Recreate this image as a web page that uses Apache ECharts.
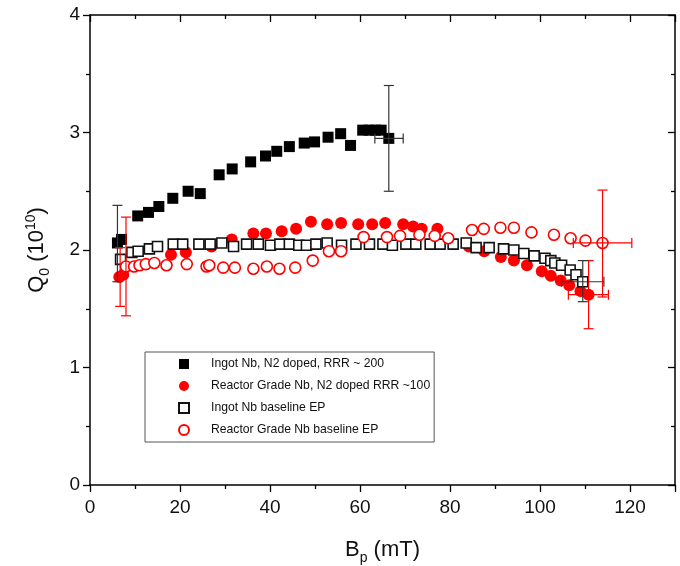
<!DOCTYPE html>
<html>
<head>
<meta charset="utf-8">
<script src="https://cdn.jsdelivr.net/npm/echarts@6/dist/echarts.min.js"></script>
<style>html,body{margin:0;padding:0;background:#fff;overflow:hidden;width:680px;height:566px}#c{width:680px;height:566px}</style>
</head>
<body>
<div id="c"></div>
<script>
// ---- data (x = Bp in mT, y = Q0 in 1e10) ----
const seriesNames = [
  'Ingot Nb, N2 doped, RRR ~ 200',
  'Reactor Grade Nb, N2 doped RRR ~100',
  'Ingot Nb baseline EP',
  'Reactor Grade Nb baseline EP'
];
const ingotDoped = [
  [6.1,2.06],[7.0,2.09],[10.6,2.29],[13.0,2.32],[15.3,2.37],[18.4,2.44],[21.8,2.50],[24.5,2.48],
  [28.7,2.64],[31.6,2.69],[35.7,2.75],[39.0,2.80],[41.5,2.84],[44.3,2.88],[47.6,2.91],[49.9,2.92],
  [52.9,2.96],[55.7,2.99],[57.9,2.89],[60.6,3.02],[62.0,3.02],[63.4,3.02],[64.7,3.02],[66.4,2.95]
];
const reactorDoped = [
  [6.5,1.77],[7.4,1.79],[18.0,1.96],[21.3,1.98],[27.0,2.03],[31.5,2.09],[36.3,2.14],[39.1,2.14],
  [42.6,2.16],[45.8,2.18],[49.1,2.24],[52.7,2.22],[55.8,2.23],[59.6,2.22],[62.7,2.22],[65.6,2.23],
  [69.6,2.22],[71.8,2.20],[73.7,2.18],[77.2,2.18],[84.2,2.03],[87.6,1.99],[91.3,1.94],[94.2,1.91],
  [97.1,1.87],[100.4,1.82],[102.4,1.78],[104.6,1.74],[106.5,1.70],[109.0,1.65],[110.8,1.62]
];
const ingotBaseline = [
  [6.8,1.92],[9.3,1.98],[10.7,1.99],[13.2,2.01],[15.0,2.03],[18.5,2.05],[20.6,2.05],[24.2,2.05],
  [26.7,2.05],[29.3,2.06],[31.9,2.03],[34.8,2.05],[37.4,2.05],[40.1,2.04],[42.2,2.05],[44.3,2.05],
  [46.4,2.04],[48.1,2.04],[50.2,2.05],[52.7,2.06],[55.9,2.04],[59.1,2.05],[62.1,2.05],[65.1,2.05],
  [67.2,2.04],[70.2,2.05],[72.4,2.05],[75.6,2.05],[77.8,2.05],[80.7,2.05],[83.6,2.06],[85.8,2.02],
  [88.7,2.02],[91.9,2.01],[94.2,2.00],[96.4,1.97],[98.7,1.95],[101.1,1.93],[102.4,1.91],[103.3,1.89],
  [104.8,1.87],[106.7,1.83],[108.0,1.79],[109.5,1.73]
];
const reactorBaseline = [
  [8.0,1.86],[9.8,1.86],[11.0,1.87],[12.4,1.88],[14.3,1.89],[17.0,1.87],[21.5,1.88],[25.9,1.86],
  [26.5,1.87],[29.6,1.85],[32.2,1.85],[36.3,1.84],[39.3,1.86],[42.1,1.84],[45.6,1.85],[49.5,1.91],
  [53.1,1.99],[55.8,1.99],[60.8,2.11],[66.0,2.11],[68.9,2.12],[73.2,2.13],[76.6,2.12],[79.6,2.10],
  [84.9,2.17],[87.5,2.18],[91.2,2.19],[94.2,2.19],[98.1,2.15],[103.1,2.13],[106.8,2.10],[110.1,2.08],
  [113.9,2.06]
];
// error bars: [x, y, yLow, yHigh, xLow, xHigh]
const ingotDopedErr = [[6.1,2.06,1.73,2.38,null,null],[66.4,2.95,2.50,3.40,63.3,69.6]];
const reactorDopedErr = [[6.7,1.77,1.52,2.02,null,null],[110.8,1.62,1.33,1.91,106.3,115.2]];
const ingotBaselineErr = [[109.5,1.73,1.56,1.91,104.8,114.2]];
const reactorBaselineErr = [[8.0,1.86,1.44,2.28,null,null],[113.9,2.06,1.60,2.51,107.4,120.4]];

const xTicks = {min:0, max:130, interval:20, lastLabel:120};
const yTicks = {min:0, max:4, interval:1};

const RED = '#ff0000';
const FONT = '"Liberation Sans", Arial, sans-serif';

function errSeries(data, color){
  return {
    type:'custom', silent:true, z:5,
    data:data,
    renderItem:function(params, api){
      const x=api.value(0), y=api.value(1), yl=api.value(2), yh=api.value(3), xl=api.value(4), xh=api.value(5);
      const children=[];
      const st={stroke:color, lineWidth:1.2};
      const cap=5;
      const pl=api.coord([x,yl]), ph=api.coord([x,yh]);
      children.push({type:'line',shape:{x1:pl[0],y1:pl[1],x2:ph[0],y2:ph[1]},style:st});
      children.push({type:'line',shape:{x1:pl[0]-cap,y1:pl[1],x2:pl[0]+cap,y2:pl[1]},style:st});
      children.push({type:'line',shape:{x1:ph[0]-cap,y1:ph[1],x2:ph[0]+cap,y2:ph[1]},style:st});
      if(!isNaN(xl) && !isNaN(xh)){
        const ql=api.coord([xl,y]), qh=api.coord([xh,y]);
        children.push({type:'line',shape:{x1:ql[0],y1:ql[1],x2:qh[0],y2:qh[1]},style:st});
        children.push({type:'line',shape:{x1:ql[0],y1:ql[1]-cap,x2:ql[0],y2:ql[1]+cap},style:st});
        children.push({type:'line',shape:{x1:qh[0],y1:qh[1]-cap,x2:qh[0],y2:qh[1]+cap},style:st});
      }
      return {type:'group',children:children};
    }
  };
}

const chart = echarts.init(document.getElementById('c'), null, {renderer:'canvas', width:680, height:566});
const axisLine = {show:true, onZero:false, lineStyle:{color:'#000', width:1.5}};
chart.setOption({
  animation:false,
  backgroundColor:'#fff',
  textStyle:{fontFamily:FONT},
  grid:{left:90, right:5, top:15, bottom:81, containLabel:false, outerBoundsMode:'none'},
  legend:{
    orient:'vertical', left:145, top:352,
    padding:[6,4,6,33], itemGap:10, itemWidth:10, itemHeight:10,
    borderColor:'#555', borderWidth:1,
    textStyle:{fontSize:12.2, color:'#111', fontFamily:FONT, padding:[0,0,0,17]},
    data:seriesNames
  },
  xAxis:[
    {type:'value', position:'bottom', min:xTicks.min, max:xTicks.max, interval:xTicks.interval,
     name:'{a|B}{s|p}{a| (mT)}', nameLocation:'middle', nameGap:50,
     nameTextStyle:{rich:{a:{fontSize:22,color:'#111',fontFamily:FONT}, s:{fontSize:14,color:'#111',fontFamily:FONT,padding:[16,0,0,0]}}},
     axisLine:axisLine, axisTick:{show:true, inside:false, length:7, lineStyle:{color:'#000',width:1.3}},
     minorTick:{show:true, splitNumber:2, length:4, lineStyle:{color:'#000',width:1.3}},
     axisLabel:{fontSize:19, color:'#111', margin:13, fontFamily:FONT,
       formatter:function(v){return v>xTicks.lastLabel?'':String(v);}},
     splitLine:{show:false}},
    {type:'value', position:'top', min:xTicks.min, max:xTicks.max, interval:xTicks.interval,
     axisLine:axisLine, axisTick:{show:true, inside:true, length:7, lineStyle:{color:'#000',width:1.3}},
     minorTick:{show:true, splitNumber:2, length:4, lineStyle:{color:'#000',width:1.3}},
     axisLabel:{show:false}, splitLine:{show:false}}
  ],
  yAxis:[
    {type:'value', position:'left', min:yTicks.min, max:yTicks.max, interval:yTicks.interval,
     name:'{a|Q}{s|0}{a| (10}{u|10}{a|)}', nameLocation:'middle', nameGap:38, nameRotate:90,
     nameTextStyle:{rich:{a:{fontSize:22,color:'#111',fontFamily:FONT}, s:{fontSize:14,color:'#111',fontFamily:FONT,padding:[16,0,0,0]}, u:{fontSize:14,color:'#111',fontFamily:FONT,padding:[0,0,12,0]}}},
     axisLine:axisLine, axisTick:{show:true, inside:false, length:7, lineStyle:{color:'#000',width:1.3}},
     minorTick:{show:true, splitNumber:2, length:4, lineStyle:{color:'#000',width:1.3}},
     axisLabel:{fontSize:19, color:'#111', margin:10, fontFamily:FONT},
     splitLine:{show:false}},
    {type:'value', position:'right', min:yTicks.min, max:yTicks.max, interval:yTicks.interval,
     axisLine:axisLine, axisTick:{show:true, inside:true, length:7, lineStyle:{color:'#000',width:1.3}},
     minorTick:{show:true, splitNumber:2, length:4, lineStyle:{color:'#000',width:1.3}},
     axisLabel:{show:false}, splitLine:{show:false}}
  ],
  series:[
    errSeries(ingotDopedErr,'#333'),
    errSeries(reactorDopedErr, RED),
    errSeries(ingotBaselineErr,'#333'),
    errSeries(reactorBaselineErr, RED),
    {name:seriesNames[0], type:'scatter', data:ingotDoped, symbol:'rect', symbolSize:11, z:3,
     itemStyle:{color:'#000', opacity:1}},
    {name:seriesNames[1], type:'scatter', data:reactorDoped, symbol:'circle', symbolSize:12, z:3,
     itemStyle:{color:RED, opacity:1}},
    {name:seriesNames[2], type:'scatter', data:ingotBaseline, symbol:'rect', symbolSize:10, z:4,
     itemStyle:{color:'#fff', borderColor:'#111', borderWidth:1.6, opacity:1}},
    {name:seriesNames[3], type:'scatter', data:reactorBaseline, symbol:'circle', symbolSize:11, z:4,
     itemStyle:{color:'#fff', borderColor:RED, borderWidth:1.6, opacity:1}}
  ]
});
</script>
</body>
</html>
